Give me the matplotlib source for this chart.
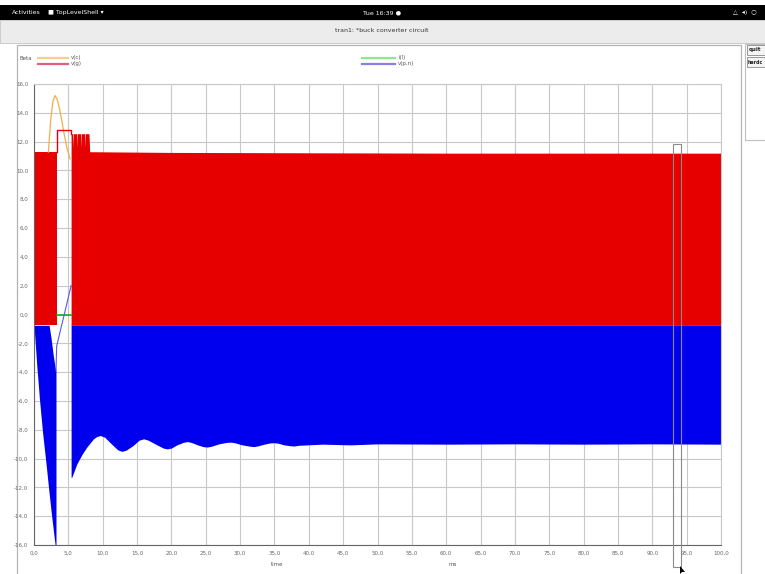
#!/usr/bin/env python3
"""Screenshot-style replot of the tran1 buck converter transient (v(c), v(g), i(l), v(p,n))."""
import matplotlib
matplotlib.use('Agg')
import matplotlib.pyplot as plt
from matplotlib.lines import Line2D
from matplotlib.patches import Rectangle, Polygon

W, H = 765, 574

# ---- data (time in ms, values in V / A) ----
# first switching block, before the gap
red1_t = [0.0, 3.3]
red1_hi = [11.25, 11.25]
blue1_t = [0.0, 0.4, 0.78, 1.25, 1.75, 2.2, 2.5, 2.82, 3.05, 3.2]
blue1_lo = [-0.75, -3.5, -5.8, -8.2, -10.35, -12.4, -13.7, -15.0, -15.9, -16.5]
blue1_hi = [-0.75, -0.75, -0.75, -0.75, -0.75, -0.75, -1.7, -2.9, -3.6, -3.9]

# the gap where the switch stops
red_gap_t = [3.3, 3.3, 5.4, 5.4]
red_gap_v = [11.25, 12.8, 12.8, 12.55]
green_t = [3.3, 5.4]
green_v = [0.0, 0.0]
blue_gap_t = [3.2, 3.3, 5.4]
blue_gap_v = [-3.9, -2.2, 2.0]
orange_t = [2.09, 2.43, 2.75, 3.07, 3.4, 3.75, 4.03, 4.28, 4.77, 5.25]
orange_v = [11.27, 13.5, 14.8, 15.2, 14.9, 14.2, 13.5, 12.8, 11.6, 10.8]

# second switching block, to the end
red2_t = [5.4, 5.6, 5.65, 5.7, 6.18, 6.23, 6.28, 6.77, 6.82, 6.87, 7.4, 7.45, 7.5,
          8.0, 8.1, 20.0, 60.0, 100.0]
red2_hi = [12.55, 12.55, 11.6, 12.55, 12.55, 11.6, 12.55, 12.55, 11.6, 12.55, 12.55, 11.6, 12.55,
           12.55, 11.3, 11.25, 11.2, 11.2]
blue2_t = [5.4, 5.5, 6.23, 7.0, 7.69, 8.66, 9.1, 9.64, 10.3, 11.2, 12.2, 12.8, 13.4,
           14.4, 15.3, 15.96, 16.6, 17.7, 18.8, 19.4, 20.0, 20.8, 21.7, 22.3, 22.9,
           23.8, 24.6, 25.2, 25.8, 26.9, 28.0, 28.6, 29.2, 30.3, 31.4, 32.0, 32.6,
           33.5, 34.3, 34.9, 35.5, 36.4, 37.3, 37.85, 38.5, 42.0, 46.0, 50.0, 60.0,
           70.0, 80.0, 90.0, 100.0]
blue2_lo = [-11.3, -11.3, -10.37, -9.7, -9.2, -8.63, -8.48, -8.4, -8.52, -8.95, -9.4, -9.5, -9.42,
            -9.1, -8.72, -8.63, -8.72, -9.0, -9.27, -9.33, -9.27, -9.05, -8.88, -8.82, -8.88,
            -9.05, -9.17, -9.2, -9.15, -8.98, -8.88, -8.86, -8.9, -9.05, -9.14, -9.17, -9.12,
            -9.0, -8.92, -8.9, -8.93, -9.05, -9.11, -9.13, -9.08, -9.0, -9.05, -8.98, -9.0,
            -8.98, -9.0, -8.98, -9.0]
low_rail = -0.75

x_ticks = list(range(0, 101, 5))
y_ticks = list(range(-16, 17, 2))
legend_names = ['v(c)', 'v(g)', 'i(l)', 'v(p,n)']

C_ORANGE = '#f0b048'
C_RED = '#e60000'
C_GREEN = '#10b010'
C_BLUE = '#0000ee'
C_BLUE_THIN = '#5a5ae0'


def fx(x):
    return x / W


def fy(y):
    return 1 - y / H


def rect(fig, x0, y0, x1, y1, **kw):
    r = Rectangle((fx(x0), fy(y1)), fx(x1) - fx(x0), fy(y0) - fy(y1),
                  transform=fig.transFigure, **kw)
    fig.add_artist(r)
    return r


def main():
    fig = plt.figure(figsize=(W / 100, H / 100), dpi=100, facecolor='white')

    # desktop chrome
    rect(fig, 0, 5, W, 20, facecolor='black', edgecolor='none', zorder=-2)
    fig.text(fx(12), fy(12.5), 'Activities', color='white', fontsize=4.5, va='center')
    fig.text(fx(48), fy(12.5), '■ TopLevelShell ▾', color='white', fontsize=4.5, va='center')
    fig.text(fx(382), fy(12.5), 'Tue 16:39 ●', color='white', fontsize=4.5, va='center', ha='center')
    fig.text(fx(733), fy(12.5), '△  ◂)  ○', color='white', fontsize=4.5, va='center')
    rect(fig, 0, 20, W, 43, facecolor='#ececec', edgecolor='#c4c4c4', linewidth=0.6, zorder=-2)
    fig.text(fx(382), fy(30), 'tran1: *buck converter circuit', color='#333333',
             fontsize=4.5, va='center', ha='center')

    # plot window frame and the button panel on the right
    rect(fig, 17, 45, 741, 580, facecolor='white', edgecolor='#b4b4b4', linewidth=0.9, zorder=-1)
    rect(fig, 745, 44, 770, 140, facecolor='white', edgecolor='#c0c0c0', linewidth=0.8, zorder=-1)
    rect(fig, 747, 45, 766, 55, facecolor='#f4f4f4', edgecolor='#888888', linewidth=0.6, zorder=-1)
    rect(fig, 747, 57, 766, 67, facecolor='#f4f4f4', edgecolor='#888888', linewidth=0.6, zorder=-1)
    fig.text(fx(749), fy(50), 'quit', fontsize=4, va='center', weight='bold', color='#222222')
    fig.text(fx(748), fy(62), 'hardc', fontsize=3.4, va='center', weight='bold', color='#222222')

    # legend strip
    fig.text(fx(20), fy(59), 'Beta', fontsize=4, va='center', color='#555555')
    legend_cols = ['#f5cf8c', '#e2607c', '#8ee88e', '#8484e0']
    legend_pos = [(38, 68, 58), (38, 68, 64), (362, 395, 58), (362, 395, 64)]
    for name, col, (x0, x1, yy) in zip(legend_names, legend_cols, legend_pos):
        fig.add_artist(Line2D([fx(x0), fx(x1)], [fy(yy), fy(yy)], color=col, linewidth=1.6,
                              transform=fig.transFigure))
        fig.text(fx(x1 + 3), fy(yy), name, fontsize=4, va='center', color='#555555')

    # the plot itself
    ax = fig.add_axes([fx(34), fy(545), fx(721) - fx(34), fy(84) - fy(545)])
    ax.set_xlim(0, 100)
    ax.set_ylim(-16, 16)
    ax.set_axisbelow(True)
    ax.grid(True, color='#c8c8c8', linewidth=0.8)
    ax.set_xticks(x_ticks)
    ax.set_yticks(y_ticks)
    ax.set_xticklabels([f'{v:.1f}'.replace('.', ',') for v in x_ticks])
    ax.set_yticklabels([f'{v:.1f}'.replace('.', ',') for v in y_ticks])
    ax.tick_params(length=0, labelsize=4, labelcolor='#666666', pad=4)
    for side in ('top', 'right'):
        ax.spines[side].set_color('#c8c8c8')
    for side in ('left', 'bottom'):
        ax.spines[side].set_color('#666666')
    for s in ax.spines.values():
        s.set_linewidth(0.8)

    ax.plot(orange_t, orange_v, color=C_ORANGE, linewidth=0.9)
    ax.plot(green_t, green_v, color=C_GREEN, linewidth=1.2)
    ax.fill_between(red1_t, red1_hi, low_rail, color=C_RED, linewidth=0)
    ax.fill_between(red2_t, red2_hi, low_rail, color=C_RED, linewidth=0)
    ax.plot(red_gap_t, red_gap_v, color=C_RED, linewidth=1.0)
    ax.fill_between(blue1_t, blue1_hi, blue1_lo, color=C_BLUE, linewidth=0)
    ax.fill_between(blue2_t, low_rail, blue2_lo, color=C_BLUE, linewidth=0)
    ax.plot(blue_gap_t, blue_gap_v, color=C_BLUE_THIN, linewidth=0.8)

    fig.text(fx(277), fy(565), 'time', fontsize=4, ha='center', va='center', color='#555555')
    fig.text(fx(453), fy(565), 'ms', fontsize=4, ha='center', va='center', color='#555555')

    # rubber-band selection box and the mouse pointer
    rect(fig, 672.5, 143.5, 681, 567, facecolor='none', edgecolor='#8a8a8a', linewidth=0.8, zorder=3)
    arrow = Polygon([(fx(680), fy(566)), (fx(680), fy(574)), (fx(682), fy(572)), (fx(685), fy(572))],
                    closed=True, transform=fig.transFigure, facecolor='black', edgecolor='none', zorder=4)
    fig.add_artist(arrow)

    fig.savefig('out.png', dpi=100, facecolor='white')
    plt.close(fig)


if __name__ == '__main__':
    main()
